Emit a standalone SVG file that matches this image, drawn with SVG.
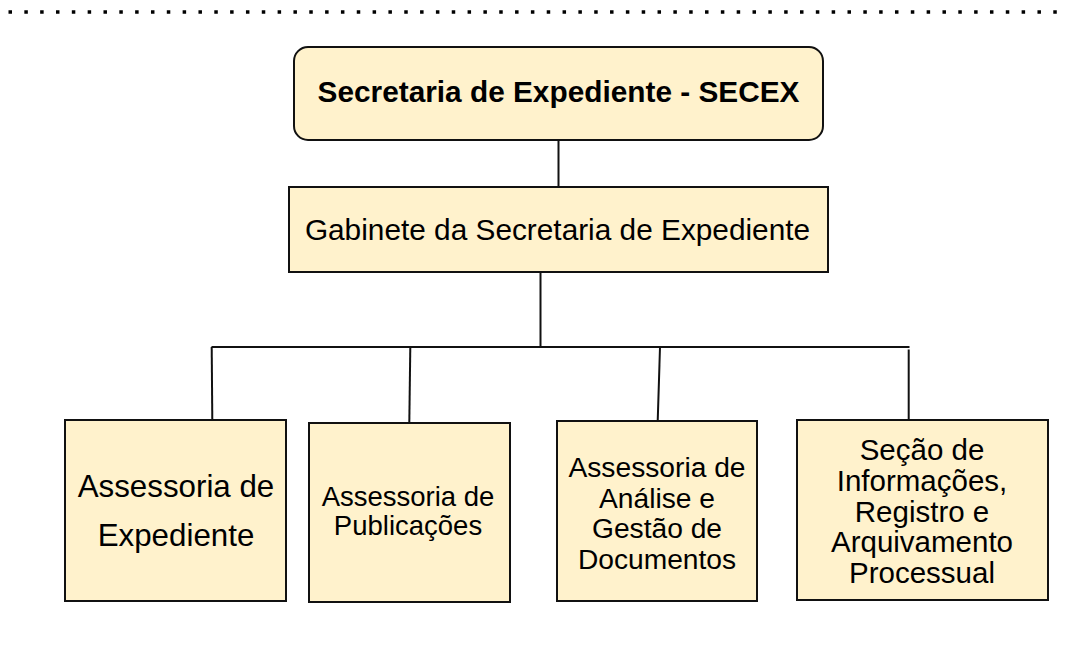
<svg xmlns="http://www.w3.org/2000/svg" width="1065" height="661" viewBox="0 0 1065 661">
<style>
.box{fill:#fff2cc;stroke:#111;stroke-width:2}
.t{font-family:"Liberation Sans",Arial,sans-serif;fill:#000;text-anchor:middle}
.b{font-weight:bold}
.c{fill:none;stroke:#111;stroke-width:2}
</style>
<rect width="1065" height="661" fill="#fff"/>
<line x1="8.5" y1="12" x2="1065" y2="12" stroke="#000" stroke-width="3.5" stroke-dasharray="3.5 12.33"/>
<g id="connectors">
<line class="c" x1="558.5" y1="140" x2="558.5" y2="187"/>
<line class="c" x1="540.5" y1="272" x2="540.5" y2="347"/>
<line class="c" x1="211.5" y1="347" x2="909.5" y2="347"/>
<line class="c" x1="211.7" y1="347" x2="212.3" y2="420"/>
<line class="c" x1="410.3" y1="347" x2="409.3" y2="423"/>
<line class="c" x1="660" y1="347" x2="657.7" y2="421"/>
<line class="c" x1="908.7" y1="349.5" x2="908.7" y2="420"/>
</g>
<g id="secex">
<rect class="box" x="294" y="47" width="529" height="93" rx="14" ry="14"/>
<text class="t b" x="558.5" y="101.7" font-size="29.8">Secretaria de Expediente - SECEX</text>
</g>
<g id="gabinete">
<rect class="box" x="289" y="187" width="539" height="85"/>
<text class="t" x="557.5" y="240" font-size="29.8">Gabinete da Secretaria de Expediente</text>
</g>
<g id="assessoria-expediente">
<rect class="box" x="65" y="420" width="221" height="181"/>
<text class="t" x="176" y="497.3" font-size="31.3">Assessoria de</text>
<text class="t" x="176" y="546" font-size="31.3">Expediente</text>
</g>
<g id="assessoria-publicacoes">
<rect class="box" x="309" y="423" width="201" height="179"/>
<text class="t" x="408" y="506" font-size="27.5">Assessoria de</text>
<text class="t" x="408" y="535" font-size="27.5">Publicações</text>
</g>
<g id="assessoria-analise">
<rect class="box" x="557" y="421" width="200" height="180"/>
<text class="t" x="657" y="477" font-size="28.2">Assessoria de</text>
<text class="t" x="657" y="507.5" font-size="28.2">Análise e</text>
<text class="t" x="657" y="538" font-size="28.2">Gestão de</text>
<text class="t" x="657" y="568.5" font-size="28.2">Documentos</text>
</g>
<g id="secao-informacoes">
<rect class="box" x="797" y="420" width="251" height="180"/>
<text class="t" x="922" y="460" font-size="29.5">Seção de</text>
<text class="t" x="922" y="490.8" font-size="29.5">Informações,</text>
<text class="t" x="922" y="521.6" font-size="29.5">Registro e</text>
<text class="t" x="922" y="552.4" font-size="29.5">Arquivamento</text>
<text class="t" x="922" y="583.2" font-size="29.5">Processual</text>
</g>
</svg>
